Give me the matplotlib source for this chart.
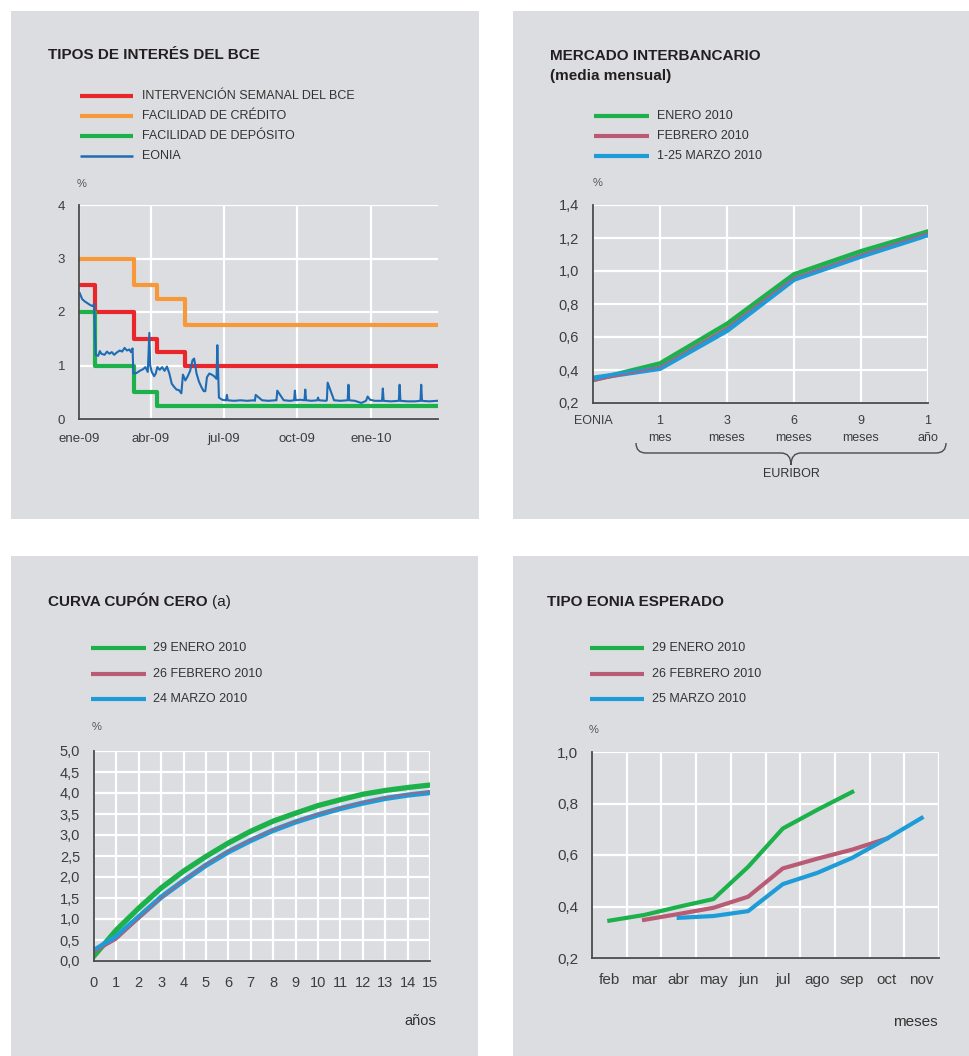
import matplotlib
matplotlib.use('Agg')
import matplotlib.pyplot as plt
import matplotlib.dates as mdates
from matplotlib.path import Path
from matplotlib.patches import PathPatch, Rectangle
from matplotlib.ticker import FuncFormatter, FixedLocator
import datetime as dt

plt.rcParams['font.family'] = ['Liberation Sans', 'DejaVu Sans']

# ---------------- DATA ----------------
# Panel 1: ECB interest rates (step series: change date, new value)
mro_dates = ['2009-01-01', '2009-01-21', '2009-03-11', '2009-04-08', '2009-05-13', '2010-03-26']
mro_values = [2.5, 2.0, 1.5, 1.25, 1.0, 1.0]
mlf_dates = ['2009-01-01', '2009-03-11', '2009-04-08', '2009-05-13', '2010-03-26']
mlf_values = [3.0, 2.5, 2.25, 1.75, 1.75]
dep_dates = ['2009-01-01', '2009-01-21', '2009-03-11', '2009-04-08', '2010-03-26']
dep_values = [2.0, 1.0, 0.5, 0.25, 0.25]

eonia_dates = [
    '2009-01-02', '2009-01-05', '2009-01-08', '2009-01-12', '2009-01-15', '2009-01-18',
    '2009-01-20', '2009-01-21', '2009-01-22', '2009-01-25', '2009-01-27', '2009-01-29',
    '2009-02-02', '2009-02-05', '2009-02-08', '2009-02-11', '2009-02-14', '2009-02-17',
    '2009-02-21', '2009-02-24', '2009-02-27', '2009-03-02', '2009-03-05', '2009-03-07',
    '2009-03-09', '2009-03-10', '2009-03-14', '2009-03-18', '2009-03-22', '2009-03-25',
    '2009-03-28', '2009-03-30', '2009-03-31', '2009-04-02', '2009-04-05', '2009-04-07',
    '2009-04-09', '2009-04-12', '2009-04-15', '2009-04-18', '2009-04-21', '2009-04-24',
    '2009-04-27', '2009-04-30', '2009-05-03', '2009-05-06', '2009-05-09', '2009-05-11',
    '2009-05-14', '2009-05-17', '2009-05-20', '2009-05-23', '2009-05-25', '2009-05-28',
    '2009-05-31', '2009-06-03', '2009-06-06', '2009-06-08', '2009-06-10', '2009-06-13',
    '2009-06-16', '2009-06-19', '2009-06-22', '2009-06-23', '2009-06-25', '2009-06-29',
    '2009-07-03', '2009-07-04', '2009-07-05', '2009-07-06', '2009-07-14', '2009-07-22',
    '2009-07-30', '2009-08-08', '2009-08-09', '2009-08-10', '2009-08-18', '2009-08-26',
    '2009-09-04', '2009-09-05', '2009-09-06', '2009-09-14', '2009-09-22', '2009-09-27',
    '2009-09-28', '2009-09-29', '2009-10-05', '2009-10-10', '2009-10-11', '2009-10-12',
    '2009-10-19', '2009-10-26', '2009-10-27', '2009-10-28', '2009-11-06', '2009-11-07',
    '2009-11-08', '2009-11-16', '2009-11-24', '2009-12-03', '2009-12-04', '2009-12-05',
    '2009-12-12', '2009-12-20', '2009-12-26', '2009-12-28', '2009-12-31', '2010-01-06',
    '2010-01-15', '2010-01-16', '2010-01-17', '2010-01-26', '2010-02-05', '2010-02-06',
    '2010-02-07', '2010-02-16', '2010-02-25', '2010-03-04', '2010-03-05', '2010-03-06',
    '2010-03-15', '2010-03-25']
eonia_values = [
    2.35, 2.24, 2.20, 2.16, 2.13, 2.11,
    2.15, 1.60, 1.20, 1.18, 1.27, 1.22,
    1.20, 1.26, 1.22, 1.25, 1.20, 1.24,
    1.28, 1.26, 1.33, 1.28, 1.30, 1.25,
    1.32, 0.85, 0.86, 0.90, 0.93, 0.97,
    0.88, 1.61, 1.00, 0.88, 0.80, 0.85,
    0.97, 0.92, 0.97, 0.90, 0.98, 0.85,
    0.66, 0.60, 0.55, 0.54, 0.48, 0.83,
    0.72, 0.80, 0.90, 1.10, 1.13, 0.85,
    0.70, 0.60, 0.52, 0.52, 0.78, 0.85,
    0.83, 0.80, 0.75, 1.38, 0.40, 0.36,
    0.35, 0.35, 0.45, 0.35, 0.34, 0.35,
    0.34, 0.35, 0.34, 0.45, 0.35, 0.34,
    0.35, 0.35, 0.53, 0.35, 0.34, 0.35,
    0.53, 0.35, 0.36, 0.35, 0.55, 0.35,
    0.34, 0.35, 0.40, 0.35, 0.34, 0.35,
    0.68, 0.35, 0.34, 0.35, 0.64, 0.35,
    0.34, 0.30, 0.34, 0.42, 0.36, 0.34,
    0.34, 0.57, 0.34, 0.33, 0.34, 0.64,
    0.34, 0.33, 0.33, 0.34, 0.64, 0.34,
    0.33, 0.34]

# Panel 2: interbank market
ib_labels = ['EONIA', '1\nmes', '3\nmeses', '6\nmeses', '9\nmeses', '1\naño']
ib_enero = [0.34, 0.44, 0.68, 0.98, 1.12, 1.24]
ib_febrero = [0.33, 0.42, 0.66, 0.96, 1.10, 1.23]
ib_marzo = [0.35, 0.41, 0.64, 0.95, 1.09, 1.22]

# Panel 3: zero-coupon curve
zc_years = [0, 1, 2, 3, 4, 5, 6, 7, 8, 9, 10, 11, 12, 13, 14, 15]
zc_enero = [0.12, 0.74, 1.26, 1.74, 2.14, 2.49, 2.81, 3.09, 3.33, 3.52, 3.70, 3.84, 3.97, 4.06, 4.13, 4.19]
zc_febrero = [0.20, 0.50, 1.00, 1.50, 1.92, 2.30, 2.62, 2.89, 3.13, 3.33, 3.50, 3.65, 3.78, 3.89, 3.97, 4.04]
zc_marzo = [0.25, 0.58, 1.05, 1.52, 1.91, 2.28, 2.60, 2.87, 3.11, 3.31, 3.48, 3.63, 3.76, 3.87, 3.95, 4.01]

# Panel 4: expected EONIA
months = ['feb', 'mar', 'abr', 'may', 'jun', 'jul', 'ago', 'sep', 'oct', 'nov']
exp_enero_months = ['feb', 'mar', 'abr', 'may', 'jun', 'jul', 'ago', 'sep']
exp_enero = [0.345, 0.367, 0.399, 0.429, 0.554, 0.703, 0.776, 0.845]
exp_febrero_months = ['mar', 'abr', 'may', 'jun', 'jul', 'ago', 'sep', 'oct']
exp_febrero = [0.348, 0.371, 0.395, 0.438, 0.548, 0.586, 0.621, 0.664]
exp_marzo_months = ['abr', 'may', 'jun', 'jul', 'ago', 'sep', 'oct', 'nov']
exp_marzo = [0.356, 0.363, 0.382, 0.487, 0.531, 0.589, 0.664, 0.744]

# ---------------- STYLE ----------------
W, H = 970, 1056
BG = '#dcdde0'
TXT = '#231f20'
TICK = '#3d3d3d'
SPINE = '#4a4a4a'
RED = '#e8262b'
ORANGE = '#f7993b'
GREEN = '#1db14b'
EBLUE = '#1f6cb5'
LBLUE = '#1d9cd8'
MAUVE = '#b95b75'

fig = plt.figure(figsize=(W / 100, H / 100), dpi=100)
fig.patch.set_facecolor('white')

ov = fig.add_axes([0, 0, 1, 1], zorder=-1)
ov.set_xlim(0, W)
ov.set_ylim(H, 0)
ov.axis('off')

for (x0, y0, x1, y1) in [(11, 11, 479, 519), (513, 11, 970, 519),
                         (11, 556, 478, 1056), (513, 556, 970, 1056)]:
    ov.add_patch(Rectangle((x0, y0), x1 - x0, y1 - y0, facecolor=BG, edgecolor='none'))


def ax_at(l, t, r, b):
    a = fig.add_axes([l / W, 1 - b / H, (r - l) / W, (b - t) / H])
    a.set_facecolor('none')
    for s in ['top', 'right']:
        a.spines[s].set_visible(False)
    for s in ['left', 'bottom']:
        a.spines[s].set_color(SPINE)
        a.spines[s].set_linewidth(1.3)
        a.spines[s].set_zorder(5)
    a.grid(True, color='white', lw=1.6, zorder=0)
    a.set_axisbelow(True)
    return a


def legend(x0, x1, xt, ys, labels, colors, lws):
    for y, lab, c, lw in zip(ys, labels, colors, lws):
        ov.plot([x0, x1], [y, y], color=c, lw=lw, solid_capstyle='butt')
        ov.text(xt, y, lab, va='center', ha='left', fontsize=9, color='#333333')


def comma(v, pos=None):
    return f'{v:.1f}'.replace('.', ',')


# ---------------- PANEL 1 ----------------
ov.text(48, 55, 'TIPOS DE INTERÉS DEL BCE', va='center', fontsize=11, fontweight='bold', color=TXT)
legend(80, 133, 142, [96, 116, 136, 156],
       ['INTERVENCIÓN SEMANAL DEL BCE', 'FACILIDAD DE CRÉDITO', 'FACILIDAD DE DEPÓSITO', 'EONIA'],
       [RED, ORANGE, GREEN, EBLUE], [3.0, 3.0, 3.0, 1.8])
ov.text(82, 184, '%', va='center', ha='center', fontsize=8, color='#555555')

ax1 = ax_at(79, 205, 438, 419)
to_d = lambda lst: [dt.datetime.strptime(s, '%Y-%m-%d') for s in lst]
ax1.plot(to_d(mlf_dates), mlf_values, drawstyle='steps-post', color=ORANGE, lw=3.0, zorder=2)
ax1.plot(to_d(mro_dates), mro_values, drawstyle='steps-post', color=RED, lw=3.0, zorder=3)
ax1.plot(to_d(dep_dates), dep_values, drawstyle='steps-post', color=GREEN, lw=3.0, zorder=3)
ax1.plot(to_d(eonia_dates), eonia_values, color=EBLUE, lw=1.5, zorder=4)
ax1.set_xlim(dt.datetime(2009, 1, 1), dt.datetime(2010, 3, 26))
ax1.set_ylim(0, 4)
x1_ticks = to_d(['2009-01-01', '2009-04-01', '2009-07-01', '2009-10-01', '2010-01-01'])
x1_labels = ['ene-09', 'abr-09', 'jul-09', 'oct-09', 'ene-10']
ax1.set_xticks(x1_ticks)
ax1.set_xticklabels(x1_labels)
ax1.set_yticks([0, 1, 2, 3, 4])
ax1.tick_params(length=0, labelsize=9.5, labelcolor=TICK)
ax1.tick_params(axis='y', pad=10)
ax1.tick_params(axis='x', pad=10)

# ---------------- PANEL 2 ----------------
ov.text(550, 56, 'MERCADO INTERBANCARIO', va='center', fontsize=11, fontweight='bold', color=TXT)
ov.text(550, 76, '(media mensual)', va='center', fontsize=11, fontweight='bold', color=TXT)
legend(594, 649, 657, [116, 136, 156],
       ['ENERO 2010', 'FEBRERO 2010', '1-25 MARZO 2010'],
       [GREEN, MAUVE, LBLUE], [3.0, 3.0, 3.0])
ov.text(598, 183, '%', va='center', ha='center', fontsize=8, color='#555555')

ax2 = ax_at(593, 205, 928, 403)
xi = list(range(len(ib_labels)))
ax2.plot(xi, ib_enero, color=GREEN, lw=3.2, zorder=2)
ax2.plot(xi, ib_marzo, color=LBLUE, lw=3.8, zorder=3)
ax2.plot(xi, ib_febrero, color=MAUVE, lw=1.0, zorder=4)
ax2.set_xlim(0, len(ib_labels) - 1)
ax2.set_ylim(0.2, 1.4)
ax2.set_xticks(xi)
ax2.set_xticklabels(ib_labels)
for lab in ax2.get_xticklabels():
    lab.set_linespacing(1.55)
    lab.set_verticalalignment('top')
ax2.set_yticks([0.2, 0.4, 0.6, 0.8, 1.0, 1.2, 1.4])
ax2.yaxis.set_major_formatter(FuncFormatter(comma))
ax2.tick_params(length=0, labelcolor=TICK)
ax2.tick_params(axis='y', pad=10, labelsize=10.5)
ax2.tick_params(axis='x', pad=9, labelsize=9)

brace = Path([(636, 443), (636, 453), (646, 453), (781, 453), (791, 453), (791, 465),
              (791, 453), (801, 453), (936, 453), (946, 453), (946, 443)],
             [Path.MOVETO, Path.CURVE3, Path.CURVE3, Path.LINETO, Path.CURVE3, Path.CURVE3,
              Path.CURVE3, Path.CURVE3, Path.LINETO, Path.CURVE3, Path.CURVE3])
ov.add_patch(PathPatch(brace, facecolor='none', edgecolor='#4a4a4a', lw=1.0))
ov.text(791, 474, 'EURIBOR', va='center', ha='center', fontsize=9, color='#333333')

# ---------------- PANEL 3 ----------------
t3 = ov.text(48, 602, 'CURVA CUPÓN CERO', va='center', fontsize=11, fontweight='bold', color=TXT)
r = fig.canvas.get_renderer()
bb = t3.get_window_extent(r)
xend = ov.transData.inverted().transform((bb.x1, bb.y0))[0]
ov.text(xend + 4, 602, '(a)', va='center', fontsize=11, color=TXT)
legend(91, 146, 153, [648, 674, 699],
       ['29 ENERO 2010', '26 FEBRERO 2010', '24 MARZO 2010'],
       [GREEN, MAUVE, LBLUE], [3.0, 3.0, 3.0])
ov.text(97, 727, '%', va='center', ha='center', fontsize=8, color='#555555')

ax3 = ax_at(94, 751, 430, 961)
ax3.plot(zc_years, zc_enero, color=GREEN, lw=3.8, zorder=2)
ax3.plot(zc_years, zc_marzo, color=LBLUE, lw=3.8, zorder=3)
ax3.plot(zc_years, zc_febrero, color=MAUVE, lw=1.0, zorder=4)
ax3.set_xlim(0, 15)
ax3.set_ylim(0, 5)
ax3.set_xticks(zc_years)
ax3.set_yticks([i * 0.5 for i in range(11)])
ax3.yaxis.set_major_formatter(FuncFormatter(comma))
ax3.tick_params(length=0, labelsize=10.5, labelcolor=TICK)
ax3.tick_params(axis='y', pad=10)
ax3.tick_params(axis='x', pad=11)
ov.text(436, 1021, 'años', va='center', ha='right', fontsize=10.5, color='#333333')

# ---------------- PANEL 4 ----------------
ov.text(547, 602, 'TIPO EONIA ESPERADO', va='center', fontsize=11, fontweight='bold', color=TXT)
legend(590, 644, 652, [648, 674, 699],
       ['29 ENERO 2010', '26 FEBRERO 2010', '25 MARZO 2010'],
       [GREEN, MAUVE, LBLUE], [3.0, 3.0, 3.0])
ov.text(594, 730, '%', va='center', ha='center', fontsize=8, color='#555555')

ax4 = ax_at(592, 752, 939, 958)
mpos = {m: i + 0.5 for i, m in enumerate(months)}
ax4.plot([mpos[m] for m in exp_enero_months], exp_enero, color=GREEN, lw=3.0, zorder=2)
ax4.plot([mpos[m] for m in exp_febrero_months], exp_febrero, color=MAUVE, lw=3.0, zorder=3)
ax4.plot([mpos[m] for m in exp_marzo_months], exp_marzo, color=LBLUE, lw=3.0, zorder=4)
ax4.set_xlim(0, len(months))
ax4.set_ylim(0.2, 1.0)
ax4.xaxis.set_major_locator(FixedLocator(list(range(1, len(months) + 1))))
ax4.xaxis.set_major_formatter(FuncFormatter(lambda v, p: ''))
ax4.set_xticks([mpos[m] for m in months], minor=True)
ax4.set_xticklabels(months, minor=True)
ax4.set_yticks([0.2, 0.4, 0.6, 0.8, 1.0])
ax4.yaxis.set_major_formatter(FuncFormatter(comma))
ax4.tick_params(which='both', length=0, labelsize=11, labelcolor=TICK)
ax4.tick_params(axis='y', pad=10)
ax4.tick_params(axis='x', which='minor', pad=11)
ax4.grid(False, which='minor')
ov.text(938, 1022, 'meses', va='center', ha='right', fontsize=11, color='#333333')

fig.savefig('out.png', dpi=100, facecolor='white')
